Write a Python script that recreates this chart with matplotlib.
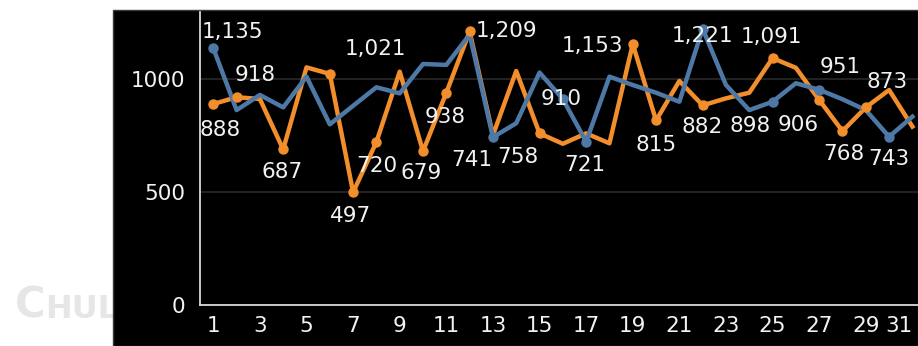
import matplotlib
matplotlib.use("Agg")
import matplotlib.pyplot as plt
from matplotlib.patches import Rectangle

# values (days 1..31)
days = list(range(1, 32))
orange_vals = [888, 918, 910, 687, 1050, 1021, 497, 720, 1031, 679,
               938, 1209, 750, 1034, 758, 712, 758, 714, 1153, 815,
               990, 882, 913, 938, 1091, 1048, 906, 768, 873, 950, 788]
blue_vals = [1135, 861, 928, 873, 1009, 798, 880, 962, 935, 1065,
             1061, 1195, 741, 803, 1027, 910, 721, 1009, 972, 938,
             898, 1221, 972, 861, 898, 980, 951, 909, 861, 743, 832]
xtick_days = list(range(1, 32, 2))
ytick_vals = [0, 500, 1000]

# which points carry a data label, and where the label sits (pixels: dx, dy down)
orange_labels = {1: (7, 26), 2: (19, -22), 4: (-1, 23), 6: (46, -25), 7: (-3, 24),
                 8: (0, 24), 10: (-2, 22), 11: (-1, 24), 12: (37, 0), 15: (-22, 24),
                 19: (-40, 2), 20: (0, 25), 22: (-1, 22), 25: (-1, -21),
                 27: (-21, 25), 28: (1, 23), 29: (21, -25)}
blue_labels = {1: (19, -16), 13: (-21, 23), 16: (-2, 0), 17: (-1, 23),
               22: (0, 7), 25: (-22, 24), 27: (21, -23), 30: (0, 22)}

ORANGE = "#F28E2B"
BLUE = "#4E79A7"
TXT = "#f2f2f2"
FS = 15.5

W, H = 918, 346
fig = plt.figure(figsize=(W / 100, H / 100), dpi=100)
fig.patch.set_facecolor("white")

# faint watermark on the white margin
fig.text(15 / W, 1 - 318 / H, "C", fontsize=30, fontweight="bold",
         color="#e6e6e6", zorder=-3)
fig.text(45 / W, 1 - 318 / H, "HULA", fontsize=23, fontweight="bold",
         color="#e6e6e6", zorder=-3)

# black chart area
bg = Rectangle((113 / W, 0), 1 - 113 / W, (H - 10) / H, transform=fig.transFigure,
               facecolor="black", edgecolor="#3a3a3a", linewidth=1, zorder=-1)
fig.patches.append(bg)

x0, x1 = 200, 918
y0, y1 = 304.7, 12
ax = fig.add_axes([x0 / W, (H - y0) / H, (x1 - x0) / W, (y0 - y1) / H])
ax.set_facecolor("none")

ax.plot(days, orange_vals, color=ORANGE, lw=3.2, zorder=2)
ax.plot(days, blue_vals, color=BLUE, lw=3.2, zorder=3)

ox = [d for d in days if d in orange_labels]
ax.plot(ox, [orange_vals[d - 1] for d in ox], "o", color=ORANGE, ms=6.5, zorder=4)
bx = [d for d in days if d in blue_labels]
ax.plot(bx, [blue_vals[d - 1] for d in bx], "o", color=BLUE, ms=6.5, zorder=4)

for labels, vals in ((orange_labels, orange_vals), (blue_labels, blue_vals)):
    for d, (dx, dy) in labels.items():
        v = vals[d - 1]
        ax.annotate(f"{v:,}", (d, v), xytext=(dx * 0.72, -dy * 0.72),
                    textcoords="offset points", ha="center", va="center",
                    color=TXT, fontsize=FS, zorder=5, annotation_clip=False)

ax.set_xlim(0.43, 31.24)
ax.set_ylim(0, 1295)
ax.set_xticks(xtick_days)
ax.set_yticks(ytick_vals)
ax.tick_params(axis="both", length=0, colors=TXT, labelsize=FS)
ax.tick_params(axis="x", pad=8)
ax.tick_params(axis="y", pad=10.5)
# last day label is pulled inside the chart edge, as in the reference
ax.get_xticklabels()[-1].set_horizontalalignment("right")

ax.grid(axis="y", color="#2a2a2a", lw=1.2)
ax.set_axisbelow(True)
for s in ("top", "right"):
    ax.spines[s].set_visible(False)
for s in ("left", "bottom"):
    ax.spines[s].set_color("#d9d9d9")
    ax.spines[s].set_linewidth(1.3)

fig.savefig("out.png", dpi=100, facecolor="white")
